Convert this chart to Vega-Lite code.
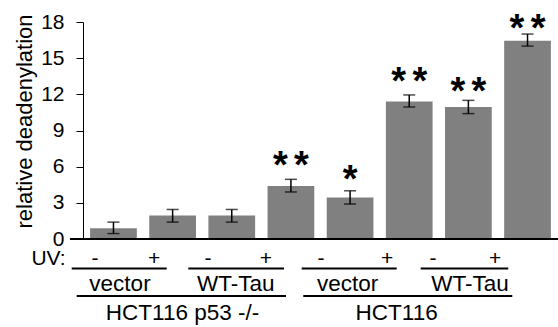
{
  "$schema": "https://vega.github.io/schema/vega-lite/v6.json",
  "width": 475,
  "height": 217,
  "autosize": "none",
  "padding": {"left": 83, "top": 22, "right": 0, "bottom": 88},
  "config": {
    "view": {"stroke": null},
    "font": "Liberation Sans",
    "axis": {"labelFont": "Liberation Sans", "titleFont": "Liberation Sans"}
  },
  "datasets": {
    "bars": [
      {"cond": "p53 vector -", "value": 0.9, "lo": 0.45, "hi": 1.4, "sig": "", "sigY": null},
      {"cond": "p53 vector +", "value": 1.95, "lo": 1.4, "hi": 2.45, "sig": "", "sigY": null},
      {"cond": "p53 WT-Tau -", "value": 1.95, "lo": 1.4, "hi": 2.45, "sig": "", "sigY": null},
      {"cond": "p53 WT-Tau +", "value": 4.4, "lo": 3.9, "hi": 4.95, "sig": "*\u2006*", "sigY": 6.64},
      {"cond": "wt vector -", "value": 3.45, "lo": 2.9, "hi": 4.0, "sig": "*", "sigY": 5.45},
      {"cond": "wt vector +", "value": 11.4, "lo": 10.95, "hi": 11.95, "sig": "*\u2006*", "sigY": 13.6},
      {"cond": "wt WT-Tau -", "value": 10.95, "lo": 10.4, "hi": 11.5, "sig": "*\u2006*", "sigY": 12.77},
      {"cond": "wt WT-Tau +", "value": 16.45, "lo": 16.0, "hi": 17.0, "sig": "*\u2006*", "sigY": 18.02}
    ],
    "uvRow": [
      {"t": "UV:", "x": -0.581, "y": -2.157},
      {"t": "-", "x": 0.202, "y": -2.157},
      {"t": "+", "x": 1.196, "y": -2.157},
      {"t": "-", "x": 2.105, "y": -2.157},
      {"t": "+", "x": 3.082, "y": -2.157},
      {"t": "-", "x": 4.008, "y": -2.157},
      {"t": "+", "x": 5.12, "y": -2.157},
      {"t": "-", "x": 5.895, "y": -2.157},
      {"t": "+", "x": 6.939, "y": -2.157}
    ],
    "groupRows": [
      {"t": "vector", "x": 0.623, "y": -4.313},
      {"t": "WT-Tau", "x": 2.574, "y": -4.313},
      {"t": "vector", "x": 4.455, "y": -4.313},
      {"t": "WT-Tau", "x": 6.518, "y": -4.313},
      {"t": "HCT116 p53 -/-", "x": 1.676, "y": -6.719},
      {"t": "HCT116", "x": 5.283, "y": -6.719}
    ],
    "lines": [
      {"x": -0.22, "x2": 8, "y": 0},
      {"x": -0.19, "x2": 1.41, "y": -2.447},
      {"x": 1.774, "x2": 3.385, "y": -2.447},
      {"x": 3.683, "x2": 5.283, "y": -2.447},
      {"x": 5.687, "x2": 7.162, "y": -2.447},
      {"x": -0.106, "x2": 3.419, "y": -4.728},
      {"x": 3.71, "x2": 7.23, "y": -4.728}
    ]
  },
  "layer": [
    {
      "data": {"name": "bars"},
      "mark": {"type": "bar", "color": "#808080"},
      "encoding": {
        "x": {
          "field": "cond", "type": "nominal", "sort": null,
          "scale": {"paddingInner": 0.21, "paddingOuter": 0.12},
          "axis": null
        },
        "y": {
          "field": "value", "type": "quantitative",
          "scale": {"domain": [0, 18], "nice": false},
          "axis": {
            "values": [0, 3, 6, 9, 12, 15, 18],
            "labelOverlap": false,
            "title": "relative deadenylation",
            "titleFontSize": 22, "titleFontWeight": "normal", "titleColor": "black",
            "titlePadding": 4, "titleY": 99,
            "labelFontSize": 21, "labelColor": "black", "labelPadding": 12,
            "tickSize": 7, "tickColor": "black", "domainColor": "black",
            "grid": false
          }
        }
      }
    },
    {
      "data": {"name": "bars"},
      "encoding": {
        "x": {
          "field": "cond", "type": "nominal", "sort": null,
          "scale": {"paddingInner": 0.21, "paddingOuter": 0.12},
          "axis": null
        }
      },
      "layer": [
        {
          "mark": {"type": "rule", "color": "black", "strokeWidth": 1.5},
          "encoding": {
            "y": {"field": "lo", "type": "quantitative", "scale": {"domain": [0, 18], "nice": false}, "axis": null},
            "y2": {"field": "hi"}
          }
        },
        {
          "mark": {"type": "tick", "color": "black", "size": 12, "thickness": 1.5},
          "encoding": {"y": {"field": "lo", "type": "quantitative", "scale": {"domain": [0, 18], "nice": false}, "axis": null}}
        },
        {
          "mark": {"type": "tick", "color": "black", "size": 12, "thickness": 1.5},
          "encoding": {"y": {"field": "hi", "type": "quantitative", "scale": {"domain": [0, 18], "nice": false}, "axis": null}}
        },
        {
          "transform": [{"filter": "datum.sig != ''"}],
          "mark": {"type": "text", "fontSize": 38, "fontWeight": "bold", "baseline": "alphabetic", "dy": 19, "color": "black"},
          "encoding": {
            "y": {"field": "sigY", "type": "quantitative", "scale": {"domain": [0, 18], "nice": false}, "axis": null},
            "text": {"field": "sig"}
          }
        }
      ]
    },
    {
      "layer": [
        {
          "data": {"name": "lines"},
          "mark": {"type": "rule", "color": "black", "strokeWidth": 2},
          "encoding": {
            "x": {"field": "x", "type": "quantitative", "scale": {"domain": [0, 8], "nice": false, "zero": false}, "axis": null},
            "x2": {"field": "x2"},
            "y": {"field": "y", "type": "quantitative", "scale": {"domain": [0, 18], "nice": false}, "axis": null}
          }
        },
        {
          "data": {"name": "uvRow"},
          "mark": {"type": "text", "fontSize": 21, "baseline": "alphabetic", "align": "center", "color": "black"},
          "encoding": {
            "x": {"field": "x", "type": "quantitative", "scale": {"domain": [0, 8], "nice": false, "zero": false}, "axis": null},
            "y": {"field": "y", "type": "quantitative", "scale": {"domain": [0, 18], "nice": false}, "axis": null},
            "text": {"field": "t"}
          }
        },
        {
          "data": {"name": "groupRows"},
          "mark": {"type": "text", "fontSize": 22.5, "baseline": "alphabetic", "align": "center", "color": "black"},
          "encoding": {
            "x": {"field": "x", "type": "quantitative", "scale": {"domain": [0, 8], "nice": false, "zero": false}, "axis": null},
            "y": {"field": "y", "type": "quantitative", "scale": {"domain": [0, 18], "nice": false}, "axis": null},
            "text": {"field": "t"}
          }
        }
      ]
    }
  ],
  "resolve": {
    "scale": {"x": "independent", "y": "independent"},
    "axis": {"x": "independent", "y": "independent"}
  }
}
